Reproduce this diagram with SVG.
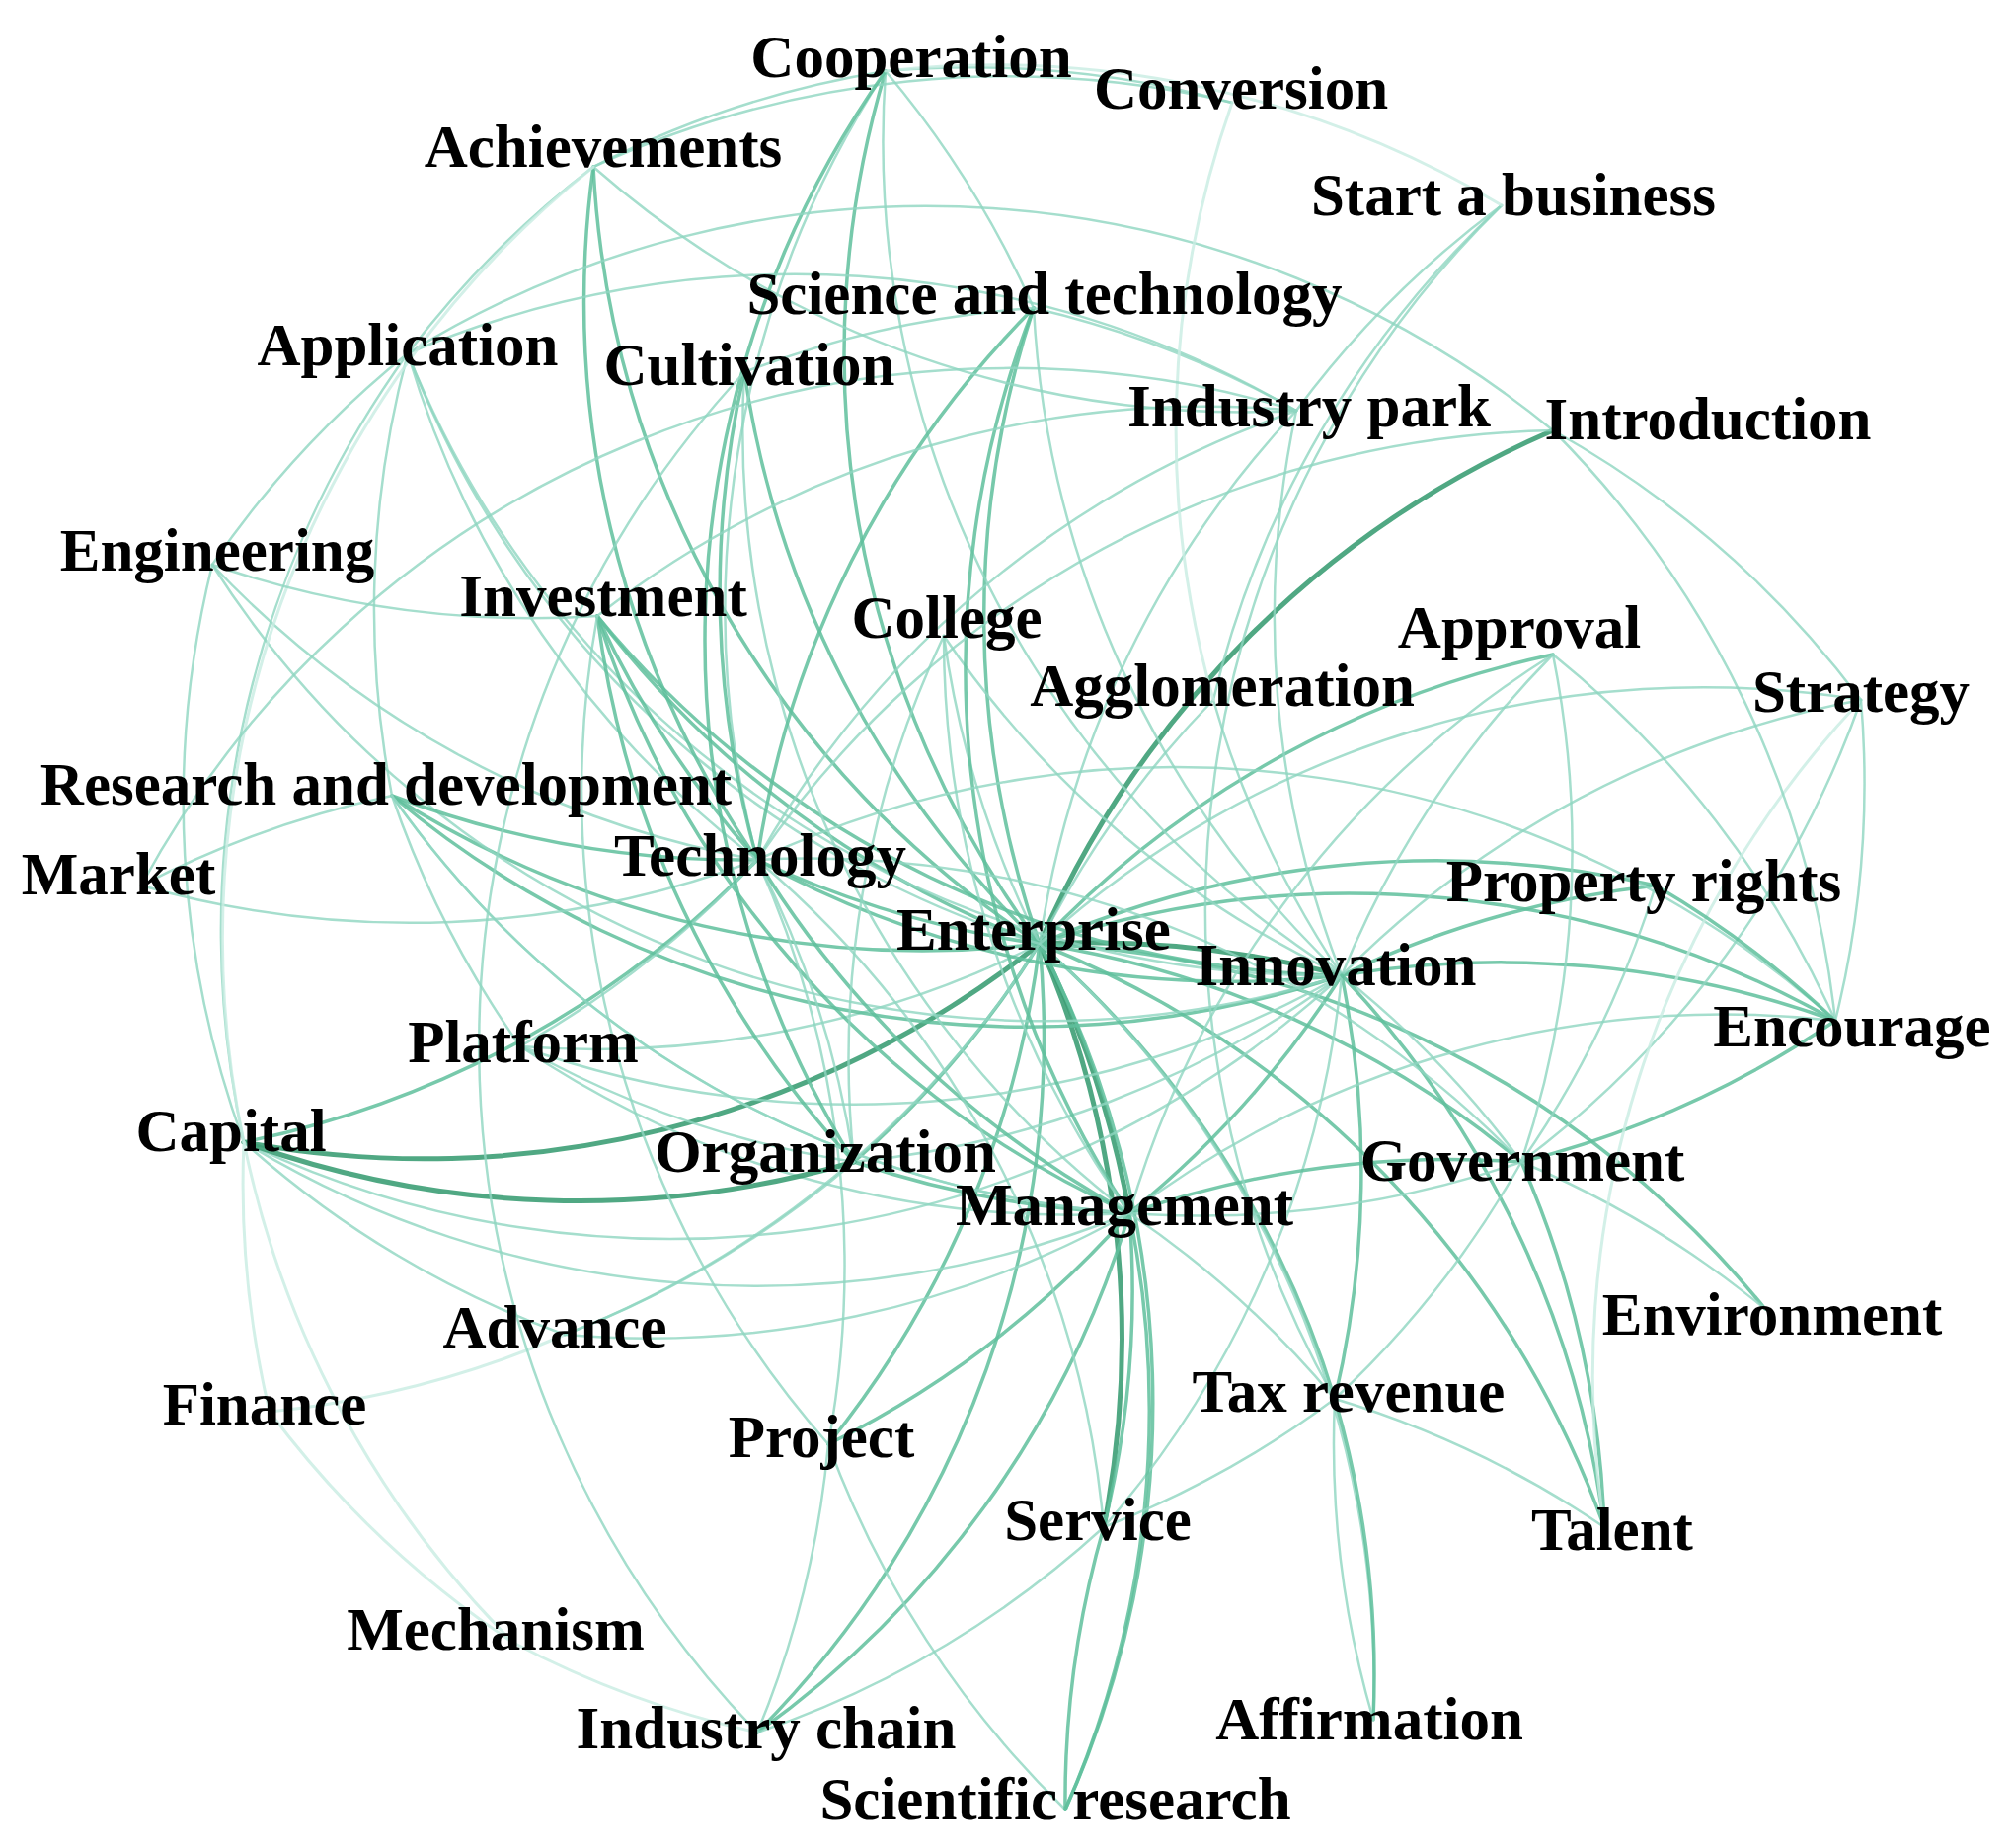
<svg xmlns="http://www.w3.org/2000/svg" width="2040" height="1872" viewBox="0 0 2040 1872">
<style>
text{font-family:"Liberation Serif","Times New Roman",serif;font-weight:bold;font-size:61px;fill:#000;text-anchor:middle}
path{fill:none;stroke-linecap:round}
.a{stroke:#8fd6c0;stroke-width:2.5;opacity:.8}
.b{stroke:#5fbf9c;stroke-width:3.5;opacity:.85}
.c{stroke:#3d9f76;stroke-width:5;opacity:.9}
.d{stroke:#c8ece2;stroke-width:3;opacity:.8}
</style>
<rect width="2040" height="1872" fill="#fff"/>
<g id="connectors">
<path class="b" d="M1053 956A1000 1000 0 0 1 767 871"/>
<path class="c" d="M1053 956A1000 1000 0 0 1 1359 988"/>
<path class="c" d="M1053 956A1000 1000 0 0 1 1144 1229"/>
<path class="b" d="M1053 956A1000 1000 0 0 1 865 1177"/>
<path class="b" d="M1053 956A1000 1000 0 0 1 605 624"/>
<path class="b" d="M1053 956A1000 1000 0 0 1 1047 312"/>
<path class="b" d="M1053 956A1000 1000 0 0 1 897 72"/>
<path class="c" d="M1053 956A1000 1000 0 0 1 1573 436"/>
<path class="b" d="M1053 956A1000 1000 0 0 1 754 377"/>
<path class="a" d="M1053 956A1000 1000 0 0 1 956 644"/>
<path class="a" d="M1053 956A1000 1000 0 0 1 1229 709"/>
<path class="b" d="M1053 956A1000 1000 0 0 1 1573 663"/>
<path class="b" d="M1053 956A1000 1000 0 0 1 1677 897"/>
<path class="b" d="M1053 956A1000 1000 0 0 1 1859 1034"/>
<path class="b" d="M1053 956A1000 1000 0 0 1 1541 1177"/>
<path class="b" d="M1053 956A1000 1000 0 0 1 1352 1417"/>
<path class="c" d="M1053 956A1000 1000 0 0 1 1118 1547"/>
<path class="b" d="M1053 956A1000 1000 0 0 1 839 1463"/>
<path class="b" d="M1053 956A1000 1000 0 0 1 767 1755"/>
<path class="b" d="M1053 956A1000 1000 0 0 1 1079 1833"/>
<path class="c" d="M1053 956A1000 1000 0 0 1 247 1157"/>
<path class="a" d="M1053 956A1000 1000 0 0 1 527 1060"/>
<path class="b" d="M1053 956A1000 1000 0 0 1 397 806"/>
<path class="a" d="M1053 956A1000 1000 0 0 1 572 1352"/>
<path class="b" d="M1053 956A1000 1000 0 0 1 1625 1547"/>
<path class="b" d="M1053 956A1000 1000 0 0 1 1788 1326"/>
<path class="a" d="M1053 956A1000 1000 0 0 1 1313 416"/>
<path class="b" d="M1053 956A1000 1000 0 0 1 601 169"/>
<path class="a" d="M1053 956A1000 1000 0 0 1 413 358"/>
<path class="a" d="M1053 956A1000 1000 0 0 1 1885 709"/>
<path class="a" d="M1053 956A1000 1000 0 0 1 1391 1742"/>
<path class="b" d="M1359 988A1000 1000 0 0 1 767 871"/>
<path class="b" d="M1359 988A1000 1000 0 0 1 1144 1229"/>
<path class="b" d="M1359 988A1000 1000 0 0 1 397 806"/>
<path class="b" d="M1359 988A1000 1000 0 0 1 605 624"/>
<path class="a" d="M1359 988A1000 1000 0 0 1 1047 312"/>
<path class="a" d="M1359 988A1000 1000 0 0 1 956 644"/>
<path class="a" d="M1359 988A1000 1000 0 0 1 1229 709"/>
<path class="a" d="M1359 988A1000 1000 0 0 1 1573 663"/>
<path class="b" d="M1359 988A1000 1000 0 0 1 1677 897"/>
<path class="b" d="M1359 988A1000 1000 0 0 1 1859 1034"/>
<path class="a" d="M1359 988A1000 1000 0 0 1 1541 1177"/>
<path class="b" d="M1359 988A1000 1000 0 0 1 1352 1417"/>
<path class="a" d="M1359 988A1000 1000 0 0 1 1118 1547"/>
<path class="a" d="M1359 988A1000 1000 0 0 1 865 1177"/>
<path class="a" d="M1359 988A1000 1000 0 0 1 247 1157"/>
<path class="a" d="M1359 988A1000 1000 0 0 1 527 1060"/>
<path class="a" d="M1359 988A1000 1000 0 0 1 1313 416"/>
<path class="a" d="M1359 988A1000 1000 0 0 1 1885 709"/>
<path class="a" d="M1359 988A1000 1000 0 0 1 215 572"/>
<path class="a" d="M1359 988A1000 1000 0 0 1 897 72"/>
<path class="a" d="M1359 988A1000 1000 0 0 1 413 358"/>
<path class="b" d="M1359 988A1000 1000 0 0 1 1625 1547"/>
<path class="b" d="M1144 1229A1000 1000 0 0 1 767 871"/>
<path class="b" d="M1144 1229A1000 1000 0 0 1 865 1177"/>
<path class="b" d="M1144 1229A1000 1000 0 0 1 605 624"/>
<path class="b" d="M1144 1229A1000 1000 0 0 1 1541 1177"/>
<path class="b" d="M1144 1229A1000 1000 0 0 1 1118 1547"/>
<path class="b" d="M1144 1229A1000 1000 0 0 1 1079 1833"/>
<path class="a" d="M1144 1229A1000 1000 0 0 1 247 1157"/>
<path class="a" d="M1144 1229A1000 1000 0 0 1 527 1060"/>
<path class="b" d="M1144 1229A1000 1000 0 0 1 839 1463"/>
<path class="b" d="M1144 1229A1000 1000 0 0 1 767 1755"/>
<path class="a" d="M1144 1229A1000 1000 0 0 1 1352 1417"/>
<path class="a" d="M1144 1229A1000 1000 0 0 1 1859 1034"/>
<path class="a" d="M1144 1229A1000 1000 0 0 1 754 377"/>
<path class="b" d="M1144 1229A1000 1000 0 0 1 1047 312"/>
<path class="a" d="M1144 1229A1000 1000 0 0 1 1573 663"/>
<path class="a" d="M1144 1229A1000 1000 0 0 1 956 644"/>
<path class="a" d="M1144 1229A1000 1000 0 0 1 397 806"/>
<path class="a" d="M1144 1229A1000 1000 0 0 1 572 1352"/>
<path class="b" d="M767 871A1000 1000 0 0 1 605 624"/>
<path class="b" d="M767 871A1000 1000 0 0 1 397 806"/>
<path class="b" d="M767 871A1000 1000 0 0 1 247 1157"/>
<path class="a" d="M767 871A1000 1000 0 0 1 527 1060"/>
<path class="a" d="M767 871A1000 1000 0 0 1 865 1177"/>
<path class="a" d="M767 871A1000 1000 0 0 1 897 72"/>
<path class="b" d="M767 871A1000 1000 0 0 1 1047 312"/>
<path class="b" d="M767 871A1000 1000 0 0 1 601 169"/>
<path class="a" d="M767 871A1000 1000 0 0 1 413 358"/>
<path class="a" d="M767 871A1000 1000 0 0 1 215 572"/>
<path class="a" d="M767 871A1000 1000 0 0 1 143 897"/>
<path class="a" d="M767 871A1000 1000 0 0 1 839 1463"/>
<path class="b" d="M767 871A1000 1000 0 0 1 754 377"/>
<path class="a" d="M767 871A1000 1000 0 0 1 1313 416"/>
<path class="a" d="M767 871A1000 1000 0 0 1 1118 1547"/>
<path class="a" d="M767 871A1000 1000 0 0 1 1859 1034"/>
<path class="a" d="M767 871A1000 1000 0 0 1 1541 1177"/>
<path class="a" d="M767 871A1000 1000 0 0 1 1573 436"/>
<path class="c" d="M247 1157A1000 1000 0 0 0 865 1177"/>
<path class="a" d="M247 1157A1000 1000 0 0 1 215 572"/>
<path class="a" d="M247 1157A1000 1000 0 0 1 413 358"/>
<path class="a" d="M247 1157A1000 1000 0 0 0 572 1352"/>
<path class="d" d="M247 1157A1000 1000 0 0 0 273 1430"/>
<path class="d" d="M247 1157A1000 1000 0 0 0 520 1664"/>
<path class="a" d="M601 169A1000 1000 0 0 1 897 72"/>
<path class="a" d="M601 169A1000 1000 0 0 1 1248 104"/>
<path class="a" d="M601 169A1000 1000 0 0 0 413 358"/>
<path class="a" d="M601 169A1000 1000 0 0 0 1313 416"/>
<path class="a" d="M897 72A1000 1000 0 0 1 1248 104"/>
<path class="a" d="M897 72A1000 1000 0 0 1 1047 312"/>
<path class="b" d="M897 72A1000 1000 0 0 0 865 1177"/>
<path class="a" d="M413 358A1000 1000 0 0 0 215 572"/>
<path class="a" d="M413 358A1000 1000 0 0 1 1313 416"/>
<path class="a" d="M413 358A1000 1000 0 0 1 1573 436"/>
<path class="a" d="M413 358A1000 1000 0 0 0 397 806"/>
<path class="b" d="M605 624A1000 1000 0 0 0 865 1177"/>
<path class="a" d="M605 624A1000 1000 0 0 1 1313 416"/>
<path class="a" d="M605 624A1000 1000 0 0 0 839 1463"/>
<path class="a" d="M397 806A1000 1000 0 0 0 143 897"/>
<path class="a" d="M397 806A1000 1000 0 0 0 527 1060"/>
<path class="a" d="M397 806A1000 1000 0 0 0 1541 1177"/>
<path class="b" d="M1541 1177A1000 1000 0 0 0 1859 1034"/>
<path class="a" d="M1541 1177A1000 1000 0 0 0 1573 663"/>
<path class="b" d="M1541 1177A1000 1000 0 0 1 1625 1547"/>
<path class="a" d="M1541 1177A1000 1000 0 0 1 1788 1326"/>
<path class="a" d="M1541 1177A1000 1000 0 0 1 1352 1417"/>
<path class="a" d="M1541 1177A1000 1000 0 0 0 1677 897"/>
<path class="a" d="M1541 1177A1000 1000 0 0 0 1885 709"/>
<path class="b" d="M1352 1417A1000 1000 0 0 1 1391 1742"/>
<path class="a" d="M1352 1417A1000 1000 0 0 0 1391 1742"/>
<path class="a" d="M1352 1417A1000 1000 0 0 1 1625 1547"/>
<path class="a" d="M1352 1417A1000 1000 0 0 1 1118 1547"/>
<path class="a" d="M1573 663A1000 1000 0 0 1 1859 1034"/>
<path class="d" d="M1885 709A1000 1000 0 0 0 1625 1547"/>
<path class="a" d="M1521 208A1000 1000 0 0 0 1229 709"/>
<path class="a" d="M1521 208A1000 1000 0 0 0 1352 1417"/>
<path class="a" d="M1521 208A1000 1000 0 0 0 1313 416"/>
<path class="a" d="M1573 436A1000 1000 0 0 1 1885 709"/>
<path class="d" d="M273 1430A1000 1000 0 0 0 572 1352"/>
<path class="d" d="M273 1430A1000 1000 0 0 0 520 1664"/>
<path class="a" d="M839 1463A1000 1000 0 0 1 767 1755"/>
<path class="a" d="M839 1463A1000 1000 0 0 0 1079 1833"/>
<path class="a" d="M1118 1547A1000 1000 0 0 1 767 1755"/>
<path class="b" d="M1118 1547A1000 1000 0 0 0 1079 1833"/>
<path class="d" d="M520 1664A1000 1000 0 0 0 767 1755"/>
<path class="b" d="M1859 1034A1000 1000 0 0 0 1677 897"/>
<path class="a" d="M572 1352A1000 1000 0 0 0 865 1177"/>
<path class="a" d="M527 1060A1000 1000 0 0 0 865 1177"/>
<path class="a" d="M956 644A1000 1000 0 0 0 865 1177"/>
<path class="a" d="M1047 312A1000 1000 0 0 0 754 377"/>
<path class="a" d="M1047 312A1000 1000 0 0 1 1313 416"/>
<path class="d" d="M1248 104A1000 1000 0 0 0 1229 709"/>
<path class="a" d="M754 377A1000 1000 0 0 0 767 1755"/>
<path class="d" d="M601 169A1000 1000 0 0 0 247 1157"/>
<path class="d" d="M897 72A1000 1000 0 0 1 1521 208"/>
<path class="a" d="M215 572A1000 1000 0 0 0 605 624"/>
<path class="a" d="M143 897A1000 1000 0 0 1 1313 416"/>
<path class="a" d="M1885 709A1000 1000 0 0 1 1859 1034"/>
<path class="a" d="M1573 436A1000 1000 0 0 1 1859 1034"/>
</g>
<g id="n-cooperation"><text x="923" y="78">Cooperation</text></g>
<g id="n-conversion"><text x="1257" y="110">Conversion</text></g>
<g id="n-achievements"><text x="611" y="169">Achievements</text></g>
<g id="n-start"><text x="1533" y="218">Start a business</text></g>
<g id="n-scitech"><text x="1058" y="318">Science and technology</text></g>
<g id="n-application"><text x="413" y="370">Application</text></g>
<g id="n-cultivation"><text x="759" y="390">Cultivation</text></g>
<g id="n-industrypark"><text x="1326" y="432">Industry park</text></g>
<g id="n-introduction"><text x="1730" y="445">Introduction</text></g>
<g id="n-engineering"><text x="220" y="578">Engineering</text></g>
<g id="n-investment"><text x="611" y="624">Investment</text></g>
<g id="n-college"><text x="959" y="646">College</text></g>
<g id="n-approval"><text x="1539" y="656">Approval</text></g>
<g id="n-agglomeration"><text x="1238" y="715">Agglomeration</text></g>
<g id="n-strategy"><text x="1885" y="721">Strategy</text></g>
<g id="n-rd"><text x="391" y="815">Research and development</text></g>
<g id="n-market"><text x="120" y="906">Market</text></g>
<g id="n-technology"><text x="770" y="887">Technology</text></g>
<g id="n-enterprise"><text x="1047" y="962">Enterprise</text></g>
<g id="n-propertyrights"><text x="1665" y="913">Property rights</text></g>
<g id="n-innovation"><text x="1353" y="998">Innovation</text></g>
<g id="n-encourage"><text x="1876" y="1060">Encourage</text></g>
<g id="n-platform"><text x="530" y="1076">Platform</text></g>
<g id="n-capital"><text x="234" y="1166">Capital</text></g>
<g id="n-organization"><text x="836" y="1187">Organization</text></g>
<g id="n-government"><text x="1542" y="1196">Government</text></g>
<g id="n-management"><text x="1139" y="1241">Management</text></g>
<g id="n-environment"><text x="1795" y="1352">Environment</text></g>
<g id="n-advance"><text x="562" y="1365">Advance</text></g>
<g id="n-finance"><text x="268" y="1443">Finance</text></g>
<g id="n-taxrevenue"><text x="1366" y="1430">Tax revenue</text></g>
<g id="n-project"><text x="832" y="1476">Project</text></g>
<g id="n-service"><text x="1112" y="1560">Service</text></g>
<g id="n-talent"><text x="1633" y="1570">Talent</text></g>
<g id="n-mechanism"><text x="502" y="1671">Mechanism</text></g>
<g id="n-affirmation"><text x="1387" y="1762">Affirmation</text></g>
<g id="n-industrychain"><text x="776" y="1771">Industry chain</text></g>
<g id="n-scires"><text x="1069" y="1843">Scientific research</text></g>
</svg>
